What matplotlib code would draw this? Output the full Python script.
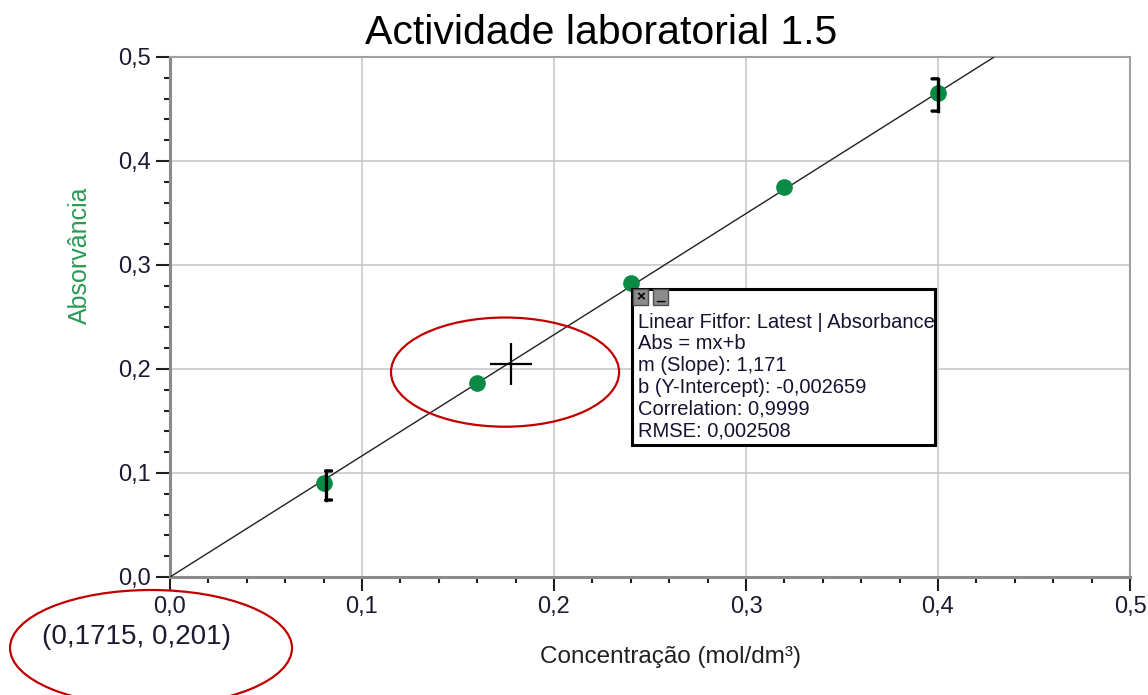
import matplotlib
matplotlib.use("Agg")
import matplotlib.pyplot as plt
from matplotlib.patches import Ellipse, Rectangle
from matplotlib.ticker import MultipleLocator, FuncFormatter
import matplotlib.transforms as mtransforms

plt.rcParams['font.family'] = ['Liberation Sans', 'DejaVu Sans']

# ---- data ----
conc = [0.08, 0.16, 0.24, 0.32, 0.40]
absorb = [0.090, 0.187, 0.283, 0.375, 0.465]
slope = 1.171
intercept = -0.002659
err_x = [0.08, 0.40]
err_lo = [0.074, 0.448]
err_hi = [0.102, 0.479]
err_side = [1, -1]
cursor = (0.1775, 0.205)
fit_lines = ["Linear Fitfor: Latest | Absorbance", "Abs = mx+b", "m (Slope): 1,171",
             "b (Y-Intercept): -0,002659", "Correlation: 0,9999", "RMSE: 0,002508"]
coord_text = "(0,1715, 0,201)"

fig = plt.figure(figsize=(11.48, 6.95), dpi=100)
ax = fig.add_axes([170/1148, 1-577/695, 960/1148, 520/695])
ax.set_xlim(0, 0.5)
ax.set_ylim(0, 0.5)

comma = FuncFormatter(lambda v, p: f"{v:.1f}".replace('.', ','))
ax.xaxis.set_major_locator(MultipleLocator(0.1))
ax.yaxis.set_major_locator(MultipleLocator(0.1))
ax.xaxis.set_minor_locator(MultipleLocator(0.02))
ax.yaxis.set_minor_locator(MultipleLocator(0.02))
ax.xaxis.set_major_formatter(comma)
ax.yaxis.set_major_formatter(comma)
ax.tick_params(which='major', direction='out', length=10, width=1.5, color='#202020',
               labelsize=17, labelcolor='#1a1a30', pad=4)
ax.tick_params(which='minor', direction='out', length=4, width=1.5, color='#202020')
ax.grid(True, which='major', color='#c8c8c8', lw=1.2)
ax.set_axisbelow(True)
for s in ['left', 'bottom']:
    ax.spines[s].set_color('#8a8a8a')
    ax.spines[s].set_linewidth(2.2)
for s in ['top', 'right']:
    ax.spines[s].set_color('#a0a0a0')
    ax.spines[s].set_linewidth(1.5)

# fit line
xe = (0.5 - intercept) / slope
ax.plot([0, xe], [0, slope * xe + intercept], color='#202020', lw=1.0,
        zorder=3, solid_capstyle='butt')

# points
ax.plot(conc, absorb, 'o', color='#0a8a45', ms=11, mec='#0a8a45', zorder=4)

# bracket error bars
for x, lo, hi, side in zip(err_x, err_lo, err_hi, err_side):
    v_off = 2 if side > 0 else 0
    tr = mtransforms.offset_copy(ax.transData, fig=fig, x=v_off, y=0, units='dots')
    tr2 = mtransforms.offset_copy(ax.transData, fig=fig, x=v_off + 6 * side, y=0, units='dots')
    ax.plot([x, x], [lo, hi], color='black', lw=2.4, transform=tr, zorder=5,
            solid_capstyle='projecting')
    for yy in (lo, hi):
        ax.annotate('', xy=(x, yy), xycoords=tr2, xytext=(x, yy), textcoords=tr,
                    arrowprops=dict(arrowstyle='-', lw=2.4, color='black',
                                    shrinkA=0, shrinkB=0))

# cursor cross
ax.plot([cursor[0]], [cursor[1]], marker='+', ms=30, mew=1.6, color='black', zorder=6)

# red ellipse around cursor
ax.add_patch(Ellipse((0.1745, 0.197), 0.1188, 0.105, fill=False, ec='#c00000', lw=1.6, zorder=7))

# fit info box (axes coords)
box = Rectangle((0.481, 0.254), 0.316, 0.300, transform=ax.transAxes, fc='white',
                ec='black', lw=2.2, zorder=8)
ax.add_patch(box)
for i, sym in enumerate(['×', '_']):
    bx = (633 - 170) / 960 + i * (20 / 960)
    ax.add_patch(Rectangle((bx, (577 - 305) / 520), 15 / 960, 16 / 520, transform=ax.transAxes,
                           fc='#8c8c8c', ec='#505050', lw=1.0, zorder=9))
    ax.text(bx + 7.5 / 960, (577 - 297) / 520 if sym == '×' else (577 - 296) / 520, sym,
            transform=ax.transAxes, ha='center', va='center', fontsize=11,
            color='black', zorder=10, fontweight='bold')
for i, line in enumerate(fit_lines):
    ax.text((638 - 170) / 960, (577 - (322 + i * 21.8)) / 520, line, transform=ax.transAxes,
            ha='left', va='center', fontsize=14.5, color='#1a1030', zorder=10)

# titles / labels
fig.text(601 / 1148, 1 - 33 / 695, "Actividade laboratorial 1.5", ha='center', va='center',
         fontsize=29.5, color='black')
fig.text(80 / 1148, 1 - 255 / 695, "Absorvância", rotation=90, ha='center', va='center',
         fontsize=18, color='#2a9a55')
fig.text(670 / 1148, 1 - 657 / 695, "Concentração (mol/dm³)", ha='center', va='center',
         fontsize=17.5, color='#202020')
fig.text(137 / 1148, 1 - 637 / 695, coord_text, ha='center', va='center',
         fontsize=20, color='#1a1a30')

# bottom-left red ellipse (figure coords)
fig.patches.append(Ellipse((151 / 1148, 1 - 648 / 695), 282 / 1148, 116 / 695,
                           transform=fig.transFigure, fill=False, ec='#c00000', lw=1.6))

fig.savefig("out.png", dpi=100)
